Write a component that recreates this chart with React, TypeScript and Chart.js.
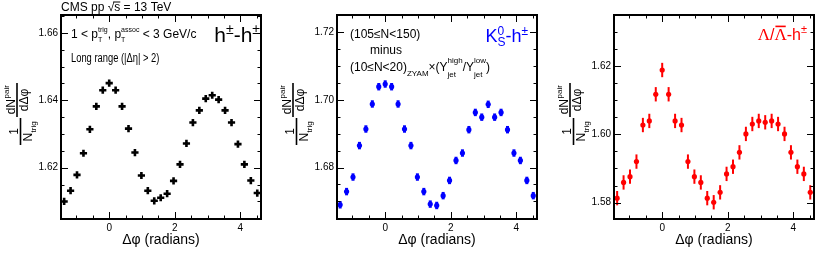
import React, { useEffect, useRef } from "react";
import { Chart, registerables } from "chart.js";
Chart.register(...registerables);

const FONT = "'Liberation Sans', Arial, Helvetica, sans-serif";
const SERIF = "'Liberation Serif', 'Times New Roman', serif";

// Δφ bin centres (radians)
const dphiBins = [
  -1.374, -1.178, -0.982, -0.785, -0.589, -0.393, -0.196, 0.0, 0.196, 0.393, 0.589,
  0.785, 0.982, 1.178, 1.374, 1.571, 1.767, 1.963, 2.16, 2.356, 2.553, 2.749, 2.945,
  3.142, 3.338, 3.534, 3.731, 3.927, 4.123, 4.32, 4.516,
];

// h±-h±
const hhYield = [
  1.61, 1.6132, 1.6179, 1.6243, 1.6314, 1.6382, 1.643, 1.6451, 1.643, 1.6382, 1.6316,
  1.6245, 1.6177, 1.6132, 1.6102, 1.6111, 1.6123, 1.6161, 1.621, 1.6272, 1.6334, 1.637,
  1.6405, 1.6415, 1.6402, 1.637, 1.6334, 1.627, 1.621, 1.6162, 1.6125,
];
// K0S-h±
const k0Yield = [
  1.669, 1.6729, 1.6772, 1.6865, 1.6914, 1.6988, 1.7039, 1.7047, 1.7039, 1.6988, 1.6914,
  1.6865, 1.6772, 1.6729, 1.6692, 1.6688, 1.6717, 1.6762, 1.6821, 1.6843, 1.6912, 1.6963,
  1.6949, 1.6987, 1.6949, 1.6963, 1.6912, 1.6843, 1.6821, 1.6762, 1.6717,
];
// Λ/Λbar-h±
const lamYield = [
  1.5813, 1.5859, 1.5876, 1.592, 1.6027, 1.6039, 1.6117, 1.6188, 1.6117, 1.6039, 1.6027,
  1.592, 1.5876, 1.5859, 1.5813, 1.5801, 1.583, 1.5884, 1.5905, 1.5947, 1.6001, 1.603,
  1.6039, 1.6035, 1.6039, 1.603, 1.6001, 1.5947, 1.5905, 1.5884, 1.583,
];

const hhErr = [0.0004];
const k0Err = [0.0011];
const lamErr = [0.0021];

const xRange = [-1.47, 4.63];
const xTickLabels = [0, 2, 4];
const hhRange = [1.6048, 1.6653];
const k0Range = [1.6648, 1.7251];
const lamRange = [1.5752, 1.6349];
const hhYTicks = [1.62, 1.64, 1.66];
const k0YTicks = [1.68, 1.7, 1.72];
const lamYTicks = [1.58, 1.6, 1.62];

type Seg = {
  t?: string;
  s: number;
  dy?: number;
  sup?: string;
  sub?: string;
  supDy?: number;
  subDy?: number;
  fam?: string;
  over?: boolean;
  overY?: number;
};

function segWidth(ctx: CanvasRenderingContext2D, g: Seg) {
  ctx.font = `${g.s}px ${g.fam || FONT}`;
  if (g.t !== undefined) return ctx.measureText(g.t).width;
  const a = g.sup ? ctx.measureText(g.sup).width : 0;
  const b = g.sub ? ctx.measureText(g.sub).width : 0;
  return Math.max(a, b);
}

function drawRich(
  ctx: CanvasRenderingContext2D,
  x: number,
  y: number,
  segs: Seg[],
  color: string,
  align: "left" | "right" = "left",
  sx = 1
) {
  ctx.save();
  ctx.fillStyle = color;
  ctx.strokeStyle = color;
  ctx.textAlign = "left";
  ctx.textBaseline = "alphabetic";
  const widths = segs.map((g) => segWidth(ctx, g));
  const total = widths.reduce((a, b) => a + b, 0) * sx;
  const x0 = align === "left" ? x : x - total;
  ctx.translate(x0, y);
  ctx.scale(sx, 1);
  let cx = 0;
  segs.forEach((g, i) => {
    ctx.font = `${g.s}px ${g.fam || FONT}`;
    if (g.t !== undefined) {
      ctx.fillText(g.t, cx, g.dy || 0);
      if (g.over) {
        ctx.lineWidth = g.overY !== undefined ? 1 : 1.6;
        ctx.beginPath();
        const oy = g.overY !== undefined ? g.overY : (g.dy || 0) - g.s * 0.8;
        ctx.moveTo(cx + (g.overY !== undefined ? -1 : 1), oy);
        ctx.lineTo(cx + widths[i] - (g.overY !== undefined ? 0 : 1), oy);
        ctx.stroke();
      }
    } else {
      if (g.sup) ctx.fillText(g.sup, cx, g.supDy || 0);
      if (g.sub) ctx.fillText(g.sub, cx, g.subDy || 0);
    }
    cx += widths[i];
  });
  ctx.restore();
}

function drawYTitle(ctx: CanvasRenderingContext2D, left: number) {
  const L2 = left - 44;
  const L1 = left - 40.5;
  ctx.save();
  ctx.fillStyle = "#000";
  ctx.strokeStyle = "#000";
  ctx.textAlign = "left";
  ctx.textBaseline = "alphabetic";
  // dN^pair / dΔφ
  ctx.save();
  ctx.translate(L2, 117);
  ctx.rotate(-Math.PI / 2);
  const len2 = 34;
  ctx.lineWidth = 1.6;
  ctx.beginPath();
  ctx.moveTo(0, 0);
  ctx.lineTo(len2, 0);
  ctx.stroke();
  ctx.font = `12px ${FONT}`;
  const wdN = ctx.measureText("dN").width;
  ctx.font = `8px ${FONT}`;
  const wpair = ctx.measureText("pair").width;
  const u0 = (len2 - wdN - wpair) / 2;
  ctx.font = `12px ${FONT}`;
  ctx.fillText("dN", u0, -2.5);
  ctx.font = `8px ${FONT}`;
  ctx.fillText("pair", u0 + wdN + 0.5, -8);
  ctx.font = `12px ${FONT}`;
  const wd = ctx.measureText("dΔφ").width;
  ctx.fillText("dΔφ", (len2 - wd) / 2, 11);
  ctx.restore();
  // 1 / N_trig
  ctx.save();
  ctx.translate(L1, 145);
  ctx.rotate(-Math.PI / 2);
  const len1 = 27;
  ctx.lineWidth = 1.6;
  ctx.beginPath();
  ctx.moveTo(0, 0);
  ctx.lineTo(len1, 0);
  ctx.stroke();
  ctx.font = `12px ${FONT}`;
  const w1 = ctx.measureText("1").width;
  ctx.fillText("1", (len1 - w1) / 2, -2.5);
  const wN = ctx.measureText("N").width;
  ctx.font = `8px ${FONT}`;
  const wt = ctx.measureText("trig").width;
  const n0 = (len1 - wN - wt) / 2;
  ctx.font = `12px ${FONT}`;
  ctx.fillText("N", n0, 11.5);
  ctx.font = `8px ${FONT}`;
  ctx.fillText("trig", n0 + wN + 0.3, 15);
  ctx.restore();
  ctx.restore();
}

type Panel = {
  left: number;
  width: number;
  padRight: number;
  values: number[];
  err: number[];
  color: string;
  marker: "cross" | "circle";
  yRange: number[];
  yTicks: number[];
  annotate: (ctx: CanvasRenderingContext2D) => void;
};

const panels: Panel[] = [
  {
    left: 0,
    width: 276,
    padRight: 15,
    values: hhYield,
    err: hhErr,
    color: "#000000",
    marker: "cross",
    yRange: hhRange,
    yTicks: hhYTicks,
    annotate: (ctx) => {
      drawRich(
        ctx,
        61,
        10.5,
        [
          { t: "CMS pp √", s: 12 },
          { t: "s", s: 12, over: true, overY: -8.5 },
          { t: " = 13 TeV", s: 12 },
        ],
        "#000"
      );
      drawRich(
        ctx,
        71,
        38,
        [
          { t: "1 < p", s: 12 },
          { sup: "trig", sub: "T", s: 7, supDy: -6, subDy: 3.5 },
          { t: ", p", s: 12 },
          { sup: "assoc", sub: "T", s: 7, supDy: -6, subDy: 3.5 },
          { t: " < 3 GeV/c", s: 12 },
        ],
        "#000"
      );
      drawRich(ctx, 71, 62, [{ t: "Long range (|Δη| > 2)", s: 12 }], "#000", "left", 0.78);
      drawRich(
        ctx,
        260,
        42,
        [
          { t: "h", s: 21 },
          { t: "±", s: 14, dy: -8 },
          { t: "-h", s: 21 },
          { t: "±", s: 14, dy: -8 },
        ],
        "#000",
        "right"
      );
    },
  },
  {
    left: 276,
    width: 276,
    padRight: 15,
    values: k0Yield,
    err: k0Err,
    color: "#0000ff",
    marker: "circle",
    yRange: k0Range,
    yTicks: k0YTicks,
    annotate: (ctx) => {
      drawRich(ctx, 350, 38, [{ t: "(105≤N<150)", s: 12 }], "#000");
      drawRich(ctx, 370, 54, [{ t: "minus", s: 12 }], "#000");
      drawRich(
        ctx,
        350,
        71,
        [
          { t: "(10≤N<20)", s: 12 },
          { t: "ZYAM", s: 8, dy: 5 },
          { t: "×(Y", s: 12 },
          { sup: "high", sub: "jet", s: 8, supDy: -8, subDy: 6 },
          { t: "/Y", s: 12 },
          { sup: "low", sub: "jet", s: 8, supDy: -8, subDy: 6 },
          { t: ")", s: 12 },
        ],
        "#000"
      );
      drawRich(
        ctx,
        528,
        42,
        [
          { t: "K", s: 18 },
          { sup: "0", sub: "S", s: 12, supDy: -7.5, subDy: 4 },
          { t: "-h", s: 18 },
          { t: "±", s: 12, dy: -7.5 },
        ],
        "#0000ff",
        "right"
      );
    },
  },
  {
    left: 552,
    width: 278,
    padRight: 16,
    values: lamYield,
    err: lamErr,
    color: "#ff0000",
    marker: "circle",
    yRange: lamRange,
    yTicks: lamYTicks,
    annotate: (ctx) => {
      drawRich(
        ctx,
        807,
        40,
        [
          { t: "Λ", s: 17, fam: SERIF },
          { t: "/", s: 16 },
          { t: "Λ", s: 17, fam: SERIF, over: true },
          { t: "-h", s: 16 },
          { t: "±", s: 11, dy: -7 },
        ],
        "#ff0000",
        "right"
      );
    },
  },
];

function makePlugin(panel: Panel) {
  return {
    id: "decor",
    beforeDatasetsDraw(chart: any) {
      const ctx: CanvasRenderingContext2D = chart.ctx;
      const xs = chart.scales.x;
      const ys = chart.scales.y;
      ctx.save();
      ctx.strokeStyle = panel.color;
      ctx.lineWidth = panel.marker === "circle" && panel.color === "#0000ff" ? 3 : 2;
      panel.values.forEach((v, i) => {
        const e = panel.err[i] ?? panel.err[0];
        const px = xs.getPixelForValue(dphiBins[i]);
        ctx.beginPath();
        ctx.moveTo(px, ys.getPixelForValue(v - e));
        ctx.lineTo(px, ys.getPixelForValue(v + e));
        ctx.stroke();
      });
      ctx.restore();
    },
    afterDraw(chart: any) {
      const ctx: CanvasRenderingContext2D = chart.ctx;
      const { left, right, top, bottom } = chart.chartArea;
      const xs = chart.scales.x;
      const ys = chart.scales.y;
      ctx.save();
      ctx.strokeStyle = "#000";
      ctx.lineWidth = 1;
      const yStep = 0.005;
      for (let v = Math.ceil(ys.min / yStep - 1e-6) * yStep; v <= ys.max + 1e-9; v += yStep) {
        const major = Math.abs(v / 0.02 - Math.round(v / 0.02)) < 1e-4;
        const len = major ? 7 : 3.5;
        const py = Math.round(ys.getPixelForValue(v)) + 0.5;
        ctx.beginPath();
        ctx.moveTo(left, py);
        ctx.lineTo(left + len, py);
        ctx.moveTo(right, py);
        ctx.lineTo(right - len, py);
        ctx.stroke();
      }
      const xStep = 0.5;
      for (let v = Math.ceil(xs.min / xStep - 1e-6) * xStep; v <= xs.max + 1e-9; v += xStep) {
        const major = Math.abs(v / 2 - Math.round(v / 2)) < 1e-4;
        const len = major ? 7 : 3.5;
        const px = Math.round(xs.getPixelForValue(v)) + 0.5;
        ctx.beginPath();
        ctx.moveTo(px, bottom);
        ctx.lineTo(px, bottom - len);
        ctx.moveTo(px, top);
        ctx.lineTo(px, top + len);
        ctx.stroke();
      }
      ctx.lineWidth = 2;
      ctx.strokeRect(left, top, right - left, bottom - top);
      ctx.restore();

      ctx.save();
      ctx.fillStyle = "#000";
      ctx.font = `14px ${FONT}`;
      ctx.textAlign = "center";
      ctx.textBaseline = "alphabetic";
      ctx.fillText("Δφ (radians)", (left + right) / 2, 244);
      ctx.restore();

      drawYTitle(ctx, left);

      ctx.save();
      ctx.translate(-panel.left, 0);
      panel.annotate(ctx);
      ctx.restore();
    },
  };
}

function PanelChart({ panel }: { panel: Panel }) {
  const ref = useRef<HTMLCanvasElement | null>(null);
  useEffect(() => {
    if (!ref.current) return;
    const chart = new Chart(ref.current, {
      type: "scatter",
      data: {
        datasets: [
          {
            data: panel.values.map((v, i) => ({ x: dphiBins[i], y: v })),
            pointStyle: panel.marker === "cross" ? "cross" : "circle",
            pointRadius: panel.marker === "cross" ? 3.6 : 2.6,
            pointBorderWidth: panel.marker === "cross" ? 2.6 : 0,
            borderColor: panel.color,
            backgroundColor: panel.color,
            pointHoverRadius: 0,
          } as any,
        ],
      },
      options: {
        animation: false,
        responsive: false,
        events: [],
        layout: { padding: { left: 0, right: panel.padRight, top: 15, bottom: 0 } },
        plugins: { legend: { display: false }, tooltip: { enabled: false } },
        scales: {
          x: {
            type: "linear",
            min: xRange[0],
            max: xRange[1],
            border: { display: false },
            grid: { display: false, drawTicks: false },
            afterBuildTicks: (s: any) => {
              s.ticks = xTickLabels.map((v) => ({ value: v }));
            },
            afterFit: (s: any) => {
              s.height = 39;
            },
            ticks: {
              padding: 3,
              color: "#000",
              font: { family: FONT, size: 10 },
              maxRotation: 0,
              callback: (v: any) => String(v),
            },
          },
          y: {
            type: "linear",
            min: panel.yRange[0],
            max: panel.yRange[1],
            border: { display: false },
            grid: { display: false, drawTicks: false },
            afterBuildTicks: (s: any) => {
              s.ticks = panel.yTicks.map((v) => ({ value: v }));
            },
            afterFit: (s: any) => {
              s.width = panel.left === 552 ? 62 : 61;
            },
            ticks: {
              padding: 3,
              color: "#000",
              font: { family: FONT, size: 10 },
              callback: (v: any) => Number(v).toFixed(2),
            },
          },
        },
      },
      plugins: [makePlugin(panel)],
    });
    return () => chart.destroy();
  }, [panel]);
  return (
    <canvas
      ref={ref}
      width={panel.width}
      height={258}
      style={{ position: "absolute", left: panel.left, top: 0, width: panel.width, height: 258 }}
    />
  );
}

export default function App() {
  useEffect(() => {
    document.body.style.margin = "0";
    document.body.style.background = "#fff";
  }, []);
  return (
    <div style={{ position: "relative", width: 830, height: 258, background: "#fff" }}>
      {panels.map((p, i) => (
        <PanelChart key={i} panel={p} />
      ))}
    </div>
  );
}
